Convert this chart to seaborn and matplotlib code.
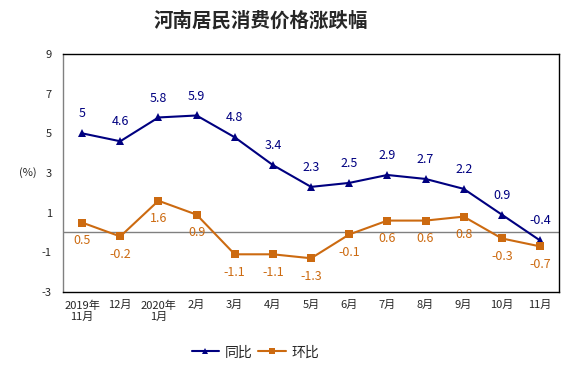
import pandas as pd
import matplotlib
matplotlib.use("Agg")
import matplotlib.pyplot as plt
import seaborn as sns

# dados
meses = ["2019年\n11月", "12月", "2020年\n1月", "2月", "3月", "4月", "5月",
         "6月", "7月", "8月", "9月", "10月", "11月"]
tongbi = [5, 4.6, 5.8, 5.9, 4.8, 3.4, 2.3, 2.5, 2.9, 2.7, 2.2, 0.9, -0.4]
huanbi = [0.5, -0.2, 1.6, 0.9, -1.1, -1.1, -1.3, -0.1, 0.6, 0.6, 0.8, -0.3, -0.7]

sns.set_theme(style="white")
plt.rcParams["font.family"] = ["Noto Sans CJK SC", "DejaVu Sans"]
plt.rcParams["axes.unicode_minus"] = False

azul = "#000080"
laranja = "#CC6A10"

df = pd.DataFrame({
    "idx": list(range(len(meses))) * 2,
    "valor": tongbi + huanbi,
    "serie": ["同比"] * len(meses) + ["环比"] * len(meses),
})

fig = plt.figure(figsize=(5.74, 3.74), dpi=100)
ax = fig.add_axes([0.1098, 0.2193, 0.8642, 0.6363])

sns.lineplot(data=df, x="idx", y="valor", hue="serie", style="serie",
             markers={"同比": "^", "环比": "s"}, dashes=False,
             palette={"同比": azul, "环比": laranja},
             markersize=5.5, linewidth=1.5, markeredgewidth=0, ax=ax, legend=True)

ax.axhline(0, color="#808080", lw=1, zorder=0)

# rótulos dos valores
for i, v in enumerate(tongbi):
    ax.annotate(f"{v:g}", (i, v), xytext=(0, 14), textcoords="offset points",
                ha="center", va="center", color=azul, fontsize=9)
for i, v in enumerate(huanbi):
    ax.annotate(f"{v:g}", (i, v), xytext=(0, -13), textcoords="offset points",
                ha="center", va="center", color=laranja, fontsize=9)

ax.set_xlim(-0.5, len(meses) - 0.5)
ax.set_ylim(-3, 9)
ax.set_yticks([-3, -1, 1, 3, 5, 7, 9])
ax.set_xticks(range(len(meses)))
ax.set_xticklabels(meses, fontsize=8, linespacing=1.2, va="top")
ax.tick_params(axis="y", labelsize=8, length=0, pad=8)
ax.tick_params(axis="x", length=0, pad=6)
ax.set_xlabel("")
ax.set_ylabel("(%)", rotation=0, fontsize=8, labelpad=14, va="center")
ax.yaxis.set_label_coords(-0.07, 0.5)

for lado in ["top", "right", "bottom"]:
    ax.spines[lado].set_color("black")
    ax.spines[lado].set_linewidth(1)
ax.spines["left"].set_color("#808080")
ax.spines["left"].set_linewidth(1)

fig.suptitle("河南居民消费价格涨跌幅", x=0.455, fontsize=14, fontweight="bold", y=0.97)

h, l = ax.get_legend_handles_labels()
ax.get_legend().remove()
fig.legend(h, l, loc="center", bbox_to_anchor=(0.445, 0.058), ncol=2,
           frameon=False, fontsize=10, handlelength=2.0, columnspacing=0.4,
           handletextpad=0.4, markerscale=0.9)

plt.savefig("out.png", dpi=100)
plt.close()
